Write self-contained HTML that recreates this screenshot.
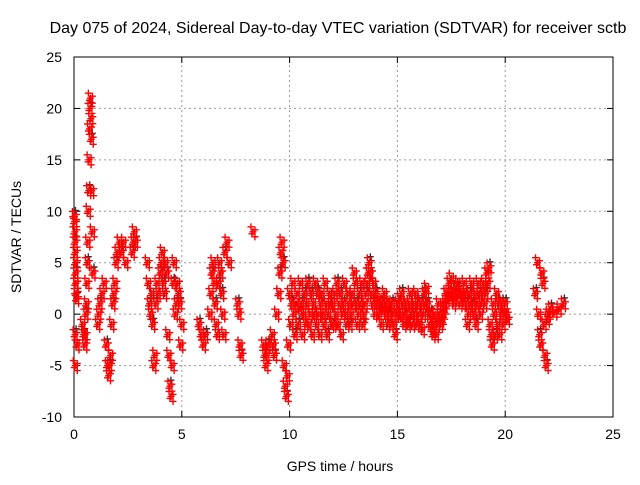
<!DOCTYPE html>
<html><head><meta charset="utf-8"><style>
body{margin:0;background:#fff}
svg text{font-family:"Liberation Sans",sans-serif;font-size:14px;fill:#000}
</style></head><body>
<svg id="c" width="640" height="480">
<rect x="0" y="0" width="640" height="480" fill="#fff"/>
</svg>
<script>
const xTicks=[0,5,10,15,20,25];
const yTicks=[-10,-5,0,5,10,15,20,25];
const titleText="Day 075 of 2024, Sidereal Day-to-day VTEC variation (SDTVAR) for receiver sctb";
// sparse segments: [time, value]
const sparseT=[0.02,0.03,0.04,0.05,0.06,0.07,0.08,0.09,0.1,0.12,0.14,0.06,0.05,0.08,
0.4,0.45,0.5,0.52,0.55,0.58,0.6,0.62,0.64,0.66,0.68,0.7,0.72,0.74,0.76,0.78,0.8,0.82,0.85,0.88,
1.1,1.15,1.2,1.3,1.4,1.5,1.55,1.6,1.65,1.7,1.75,1.8,1.85,1.9,1.95,2.0,2.1,2.2,2.3,2.4,
2.7,2.75,2.8,2.85,
3.4,3.45,3.5,3.55,3.6,3.65,3.7,3.75,3.8,3.85,3.9,
4.0,4.05,4.1,4.15,4.2,4.25,4.3,4.35,4.4,4.45,4.5,4.55,4.6,4.65,4.7,4.75,4.8,4.85,4.9,4.95,5.0,
5.8,5.9,6.0,6.1,6.3,6.35,6.4,6.45,6.5,6.55,6.6,6.65,6.7,6.75,6.8,6.85,6.9,6.95,7.0,7.1,7.2,
7.6,7.65,7.7,7.75,8.3,8.8,8.85,8.9,8.95,9.0,
9.2,9.25,9.3,9.4,9.5,9.55,9.6,9.65,9.7,9.75,9.8,9.85,9.9,9.95,
21.4,21.5,21.55,21.6,21.65,21.7,21.75,21.8,21.85,21.9,21.95,22.0,22.1,22.3,22.5,22.7];
const sparseV=[9.5,9,8,7,6,5,4,3,2,1.5,-3,-5,-2,3,
-1,-2,-3,-2,0,1,3,5,7,10,12,15,18,20,21,19,17,12,8,4,
-1,0,1,2,3,-3,-5,-6,-5,-4,-1,1,2,3,5,6,7,6,7,5,
6,7,8,7,
5,3,1,0,2,-1,-5,-4,1,3,2,
4,5,6,3,2,5,4,-2,-4,-7,-8,-5,3,5,0,1,3,2,1,-3,-1,
-1,-2,-3,-2,0,2,4,5,3,1,-1,-2,3,5,4,2,0,-2,6,7,5,
1,0,-3,-4,8,-3,-4,-5,-4,-3,
-2,-3,-4,0,2,4,6,7,5,-5,-7,-8,-6,-3,
2,5,0,-2,-3,4,3,-1,-4,-5,-0.5,0,0.5,0.2,0.5,1];
// dense band starting at 10.0, spaced 0.05 h
const denseStart=10.0, denseStep=0.05;
const denseV=[2,-1,1,3,0,-2,1,2,-1,0.5,3,1,-2,0,2,-1,1,3,-1,0,
2,-2,1,0,3,-1,2,0,-2,1,2,0,-1,3,1,-2,0,2,1,-1,
1,-1,2,0,3,-1,1,2,-2,0,1,3,0,-1,2,1,-1,0,2,1,
4,3,1,-1,0,2,1,3,-1,0,1,2,3,4,5,4,2,1,3,0,
2,1,1.5,0,1,-1,1,0.5,2,0,1,-1,0,1,-1,1,0,-1,-2,0,
1,0,1.5,0,2,1,-1,0,1,-0.5,-1,1,2,0,-1,1,0,2,-1,1,
0,-1,1,-1.5,0,2,1,2.5,1,0,-1,0,-1.5,-2,-1,0,-2,-1,1,0,
-1,-0.5,0,0.5,1,2,1.5,2,3,2,3.5,2,1,1.5,2,2.5,3,2,1,2,
2,1,3,2,1,-1,0,2,1,3,1,0,2,-1,1,3,2,0,1,2,
3,1,2,4,3,4.5,-1,-2,-3,1,0,-2,2,-1,1,-2,0,1,-1,0,1,0,-0.5];

const X0=74,X1=613,Y0=417,Y1=57;
const sx=v=>X0+(v-0)/(25-0)*(X1-X0);
const sy=v=>Y0-(v+10)/35*(Y0-Y1);
const svg=document.getElementById('c');
const NS="http://www.w3.org/2000/svg";
function mk(t,a){const e=document.createElementNS(NS,t);for(const k in a)e.setAttribute(k,a[k]);svg.appendChild(e);return e;}
xTicks.forEach(v=>{
 if(v>0&&v<25){const g=mk('line',{x1:sx(v),x2:sx(v),y1:Y0,y2:Y1,stroke:'#999','stroke-dasharray':'2,3'});
 
 }
 const t=mk('text',{x:sx(v),y:Y0+22,'text-anchor':'middle'});t.textContent=v;
 
 
 mk('line',{x1:sx(v),x2:sx(v),y1:Y0,y2:Y0-6,stroke:'#000'});
 mk('line',{x1:sx(v),x2:sx(v),y1:Y1,y2:Y1+6,stroke:'#000'});
});
yTicks.forEach(v=>{
 if(v>-10&&v<25){const g=mk('line',{x1:X0,x2:X1,y1:sy(v),y2:sy(v),stroke:'#999','stroke-dasharray':'2,3'});
 
 }
 const t=mk('text',{x:X0-12,y:sy(v)+5,'text-anchor':'end'});t.textContent=v;
 
 
 mk('line',{x1:X0,x2:X0+6,y1:sy(v),y2:sy(v),stroke:'#000'});
 mk('line',{x1:X1,x2:X1-6,y1:sy(v),y2:sy(v),stroke:'#000'});
});
const fr=mk('rect',{x:X0,y:Y1,width:X1-X0,height:Y0-Y1,fill:'none',stroke:'#000'});


function plus(t,v,col,dx,dy){const x=sx(t)+dx,y=sy(v)+dy;
 const p=mk('path',{d:`M${x-3.5},${y}h7M${x},${y-3.5}v7`,stroke:col,'stroke-width':1.4});
 
 }
const allT=sparseT.concat(denseV.map((_,i)=>denseStart+i*denseStep));
const allV=sparseV.concat(denseV);
const spread=[[-2,-5],[2,-2],[-1,2],[2,5],[0,0]];
allT.forEach((t,i)=>{if(i%3==0)plus(t,allV[i],'#333',1,-6);});
allT.forEach((t,i)=>{spread.forEach(o=>plus(t,allV[i],'#f00',o[0],o[1]));});
const tt=mk('text',{x:338,y:33,'text-anchor':'middle','style':'font-size:16px'});tt.textContent=titleText;


const xl=mk('text',{x:340,y:471,'text-anchor':'middle'});xl.textContent="GPS time / hours";


const yl=mk('text',{x:0,y:0,'text-anchor':'middle',transform:'translate(21,237) rotate(-90)'});yl.textContent="SDTVAR / TECUs";


</script>
</body></html>
